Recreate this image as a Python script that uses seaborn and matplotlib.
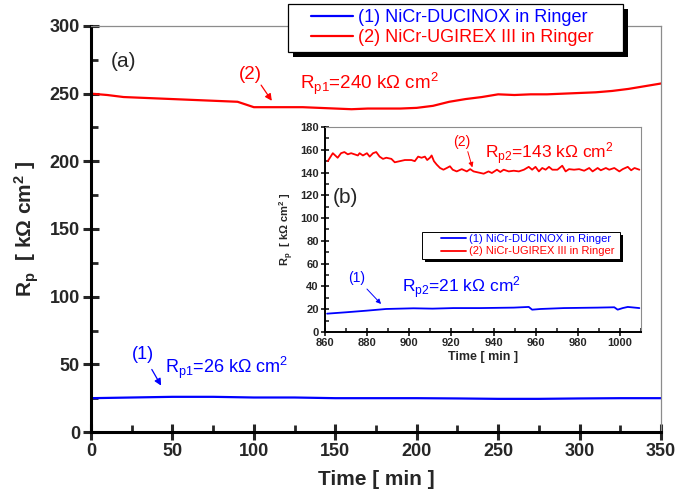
import matplotlib
matplotlib.use("Agg")
import numpy as np
import matplotlib.pyplot as plt
import matplotlib.patheffects as pe
from matplotlib.ticker import MultipleLocator
from matplotlib.legend_handler import HandlerLine2D
from matplotlib.lines import Line2D
import seaborn as sns
import pandas as pd

# ---------------- data ----------------
main_time_red = [0, 10, 20, 30, 40, 50, 60, 70, 80, 90, 95, 100, 110, 120, 130, 140, 150,
                 160, 170, 180, 190, 200, 210, 220, 230, 240, 250, 260, 270, 280, 290,
                 300, 310, 320, 330, 340, 350]
main_rp_red = [250, 249, 247.5, 247, 246.5, 246, 245.5, 245, 244.5, 244, 242, 240, 240,
               240, 240, 239.5, 239, 238.5, 239, 239, 239, 239.5, 241, 244, 246, 247.5,
               249.5, 249, 249.5, 249.5, 250, 250.5, 251, 252, 253.5, 255.5, 257.5]
main_time_blue = [0, 25, 50, 75, 100, 125, 150, 175, 200, 225, 250, 275, 300, 325, 350]
main_rp_blue = [25, 25.5, 26, 26, 25.5, 25.5, 25, 25, 25, 24.8, 24.5, 24.5, 24.8, 25, 25]

inset_time_red = [861.3, 863.7, 866, 867.6, 869.2, 870.8, 872.4, 874, 875.6, 876.4, 878,
                  879.9, 881.2, 882.8, 884.3, 885.9, 887.5, 889.1, 891.5, 893.1, 895.5,
                  897.9, 901, 902.6, 904.2, 905.8, 907.4, 908.5, 909.8, 910.6, 911.7, 913,
                  914.6, 916.2, 917.8, 919.3, 920.6, 922.5, 924.9, 927.3, 928.9, 930.5,
                  932.9, 935.3, 937.6, 939.2, 941.6, 943.2, 944.8, 947.2, 949.6, 952,
                  954.4, 956.7, 958.3, 959.9, 961.5, 963.1, 964.7, 966.3, 967.9, 970.3,
                  972.6, 974.2, 975.8, 978.2, 980.6, 983, 985.4, 987, 989.4, 990.9, 993.3,
                  994.9, 997.3, 999.7, 1001.3, 1003.7, 1005.3, 1006.9, 1009.2]
inset_rp_red = [150, 157, 153, 157, 158, 156, 157, 156, 155, 157, 155, 157, 154, 157, 158,
                154, 152, 153, 152, 149, 150, 151, 151, 150, 154, 153, 154, 151, 153, 155,
                150, 147, 144, 142.5, 144, 145.5, 142.5, 141, 143, 141, 143, 141, 140,
                139, 141, 139.6, 142.5, 140.5, 142.5, 141, 141.6, 141, 142.5, 145, 142.5,
                145, 141, 144, 142.5, 145, 142.5, 142.5, 146, 141, 143, 142.5, 143, 141.6,
                144, 141, 144, 142, 144, 142.5, 144, 141, 143, 145, 142, 144, 142.5]
inset_time_blue = [861, 870, 879.6, 889, 902, 911, 921, 933.7, 949.6, 956.7, 958.3, 962.3,
                   973.4, 989.4, 997.3, 998.9, 1001.3, 1003.7, 1009.2]
inset_rp_blue = [16.1, 17.3, 18.7, 20.2, 20.8, 20.5, 21, 21, 21.4, 22, 19.6, 20.2, 21,
                 21.4, 21.7, 19.6, 21, 22, 21]

series_labels = ["(1) NiCr-DUCINOX in Ringer", "(2) NiCr-UGIREX III in Ringer"]
blue = "#0000ff"
red = "#ff0000"


class ShiftedLineHandler(HandlerLine2D):
    """Legend line that starts part-way into the handle box (Origin style)."""

    def __init__(self, frac, **kw):
        super().__init__(**kw)
        self.frac = frac

    def create_artists(self, legend, orig_handle, xdescent, ydescent, width, height,
                       fontsize, trans):
        arts = super().create_artists(legend, orig_handle, xdescent, ydescent, width,
                                      height, fontsize, trans)
        for a in arts:
            xd = np.asarray(a.get_xdata(), dtype=float)
            if len(xd) >= 2:
                x0 = xd[0] + self.frac * (xd[-1] - xd[0])
                a.set_xdata(np.linspace(x0, xd[-1], len(xd)))
        return arts


# ---------------- style ----------------
sns.set_style("ticks")
plt.rcParams["font.family"] = ["Liberation Sans", "DejaVu Sans"]
plt.rcParams["mathtext.default"] = "regular"

fig = plt.figure(figsize=(6.76, 4.93), dpi=100)
fig.patch.set_facecolor("white")
ax = fig.add_axes([0.1346, 0.1237, 0.8432, 0.8236])

df_b = pd.DataFrame({"t": main_time_blue, "rp": main_rp_blue})
df_r = pd.DataFrame({"t": main_time_red, "rp": main_rp_red})
sns.lineplot(data=df_b, x="t", y="rp", ax=ax, color=blue, lw=1.6, label=series_labels[0])
sns.lineplot(data=df_r, x="t", y="rp", ax=ax, color=red, lw=1.6, label=series_labels[1])

ax.set_xlim(0, 350)
ax.set_ylim(0, 300)
ax.xaxis.set_major_locator(MultipleLocator(50))
ax.xaxis.set_minor_locator(MultipleLocator(25))
ax.yaxis.set_major_locator(MultipleLocator(50))
ax.yaxis.set_minor_locator(MultipleLocator(25))
ax.tick_params(which="major", direction="inout", length=12, width=2.2,
               labelsize=13, pad=2, top=False, right=False)
ax.tick_params(which="minor", direction="in", length=5, width=2, top=False, right=False)
for lab in ax.get_xticklabels() + ax.get_yticklabels():
    lab.set_fontweight("bold")
for s in ("left", "bottom"):
    ax.spines[s].set_linewidth(2.2)
    ax.spines[s].set_color("black")
for s in ("top", "right"):
    ax.spines[s].set_visible(True)
    ax.spines[s].set_linewidth(0.9)
    ax.spines[s].set_color("#8c8c8c")
ax.set_xlabel("Time [ min ]", fontsize=15, fontweight="bold", labelpad=7)
ax.set_ylabel("R$_p$  [ kΩ cm$^2$ ]", fontsize=15, fontweight="bold", labelpad=6)

h, l = ax.get_legend_handles_labels()
leg = ax.legend(h, l, loc="upper left",
                bbox_to_anchor=(288 / 676, 1 - 52 / 493, 335 / 676, 48 / 493),
                bbox_transform=fig.transFigure, mode="expand", fontsize=13,
                frameon=True, fancybox=False, edgecolor="black", framealpha=1,
                borderaxespad=0, handlelength=3.3, handletextpad=0.28,
                labelcolor="linecolor", borderpad=0.3, labelspacing=0.15,
                handler_map={Line2D: ShiftedLineHandler(0.29)})
leg.get_frame().set_linewidth(0.9)
leg.get_frame().set_path_effects([pe.SimplePatchShadow(offset=(3.6, -3.6),
                                                       shadow_rgbFace="black", alpha=1.0),
                                  pe.Normal()])

ax.text(12, 274, "(a)", fontsize=15, ha="left", va="center")
ax.text(98, 264, "(2)", fontsize=13.5, color=red, ha="center", va="center")
ax.annotate("", xy=(112, 243), xytext=(103.5, 258),
            arrowprops=dict(arrowstyle="-|>", color=red, lw=0.9, mutation_scale=10))
ax.text(128.6, 253.3, "R$_{p1}$=240 kΩ cm$^2$", fontsize=13.5, color=red,
        ha="left", va="baseline")
ax.text(31.7, 57, "(1)", fontsize=13, color=blue, ha="center", va="center")
ax.annotate("", xy=(43.9, 32.5), xytext=(36.5, 48),
            arrowprops=dict(arrowstyle="-|>", color=blue, lw=0.9, mutation_scale=10))
ax.text(45.7, 43.8, "R$_{p1}$=26 kΩ cm$^2$", fontsize=13, color=blue,
        ha="left", va="baseline")

# ---------------- inset ----------------
ins = fig.add_axes([0.4808, 0.3266, 0.4675, 0.4158])
ins.set_facecolor("white")
dfi_b = pd.DataFrame({"t": inset_time_blue, "rp": inset_rp_blue})
dfi_r = pd.DataFrame({"t": inset_time_red, "rp": inset_rp_red})
sns.lineplot(data=dfi_b, x="t", y="rp", ax=ins, color=blue, lw=1.3, label=series_labels[0])
sns.lineplot(data=dfi_r, x="t", y="rp", ax=ins, color=red, lw=1.3, label=series_labels[1])
ins.set_xlim(860, 1010)
ins.set_ylim(0, 180)
ins.xaxis.set_major_locator(MultipleLocator(20))
ins.xaxis.set_minor_locator(MultipleLocator(10))
ins.yaxis.set_major_locator(MultipleLocator(20))
ins.yaxis.set_minor_locator(MultipleLocator(10))
ins.tick_params(which="major", direction="inout", length=6, width=1.3,
                labelsize=8, pad=1.5, top=False, right=False)
ins.tick_params(which="minor", direction="in", length=3, width=1.2, top=False, right=False)
for lab in ins.get_xticklabels() + ins.get_yticklabels():
    lab.set_fontweight("bold")
for s in ("left", "bottom"):
    ins.spines[s].set_linewidth(1.4)
    ins.spines[s].set_color("black")
for s in ("top", "right"):
    ins.spines[s].set_visible(True)
    ins.spines[s].set_linewidth(0.8)
    ins.spines[s].set_color("#8c8c8c")
ins.set_xlabel("Time [ min ]", fontsize=9, fontweight="bold", labelpad=2)
ins.set_ylabel("R$_p$  [ kΩ cm$^2$ ]", fontsize=8, fontweight="bold", labelpad=3)

hi, li = ins.get_legend_handles_labels()
ileg = ins.legend(hi, li, loc="upper left", bbox_to_anchor=(0.307, 0.351, 0.627, 0.137),
                  mode="expand", fontsize=8, frameon=True, fancybox=False,
                  edgecolor="black", framealpha=1, borderaxespad=0,
                  handlelength=3.75, handletextpad=0.27, labelcolor="linecolor",
                  borderpad=0.2, labelspacing=0.2,
                  handler_map={Line2D: ShiftedLineHandler(0.4)})
ileg.get_frame().set_linewidth(0.7)
ileg.get_frame().set_path_effects([pe.SimplePatchShadow(offset=(2.2, -2.2),
                                                        shadow_rgbFace="black", alpha=1.0),
                                   pe.Normal()])

ins.text(863.8, 118.5, "(b)", fontsize=15, ha="left", va="center")
ins.text(925, 167, "(2)", fontsize=10, color=red, ha="center", va="center")
ins.annotate("", xy=(930.3, 142.2), xytext=(927.4, 160.7),
             arrowprops=dict(arrowstyle="-|>", color=red, lw=0.7, mutation_scale=7))
ins.text(936, 152, "R$_{p2}$=143 kΩ cm$^2$", fontsize=12.5, color=red,
         ha="left", va="baseline")
ins.text(875.2, 47, "(1)", fontsize=10, color=blue, ha="center", va="center")
ins.annotate("", xy=(887.5, 22.8), xytext=(879, 39.5),
             arrowprops=dict(arrowstyle="-|>", color=blue, lw=0.7, mutation_scale=7))
ins.text(896.4, 34.5, "R$_{p2}$=21 kΩ cm$^2$", fontsize=12.5, color=blue,
         ha="left", va="baseline")

fig.savefig("out.png", dpi=100, facecolor="white")
